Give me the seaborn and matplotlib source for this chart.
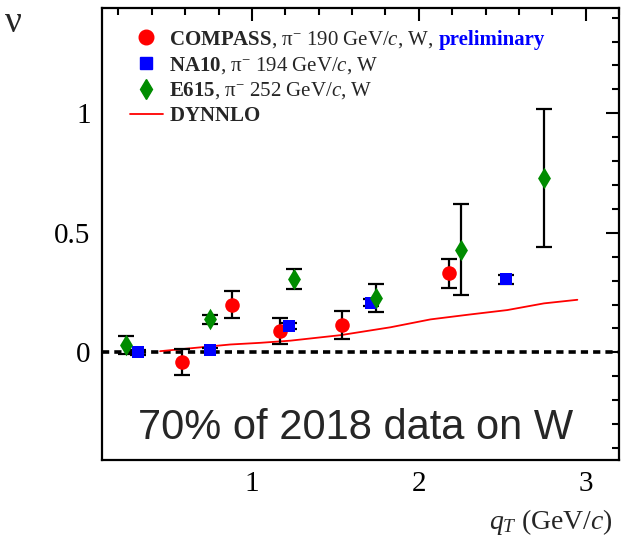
import numpy as np
import pandas as pd
import matplotlib
matplotlib.use("Agg")
import matplotlib.pyplot as plt
from matplotlib.lines import Line2D
from matplotlib.ticker import MultipleLocator, FixedLocator
import seaborn as sns

# COMPASS, pi- 190 GeV/c, W (preliminary)
compass_qt = [0.58, 0.88, 1.17, 1.54, 2.18]
compass_nu = [-0.04, 0.20, 0.09, 0.115, 0.33]
compass_err = [0.056, 0.057, 0.055, 0.057, 0.06]

# NA10, pi- 194 GeV/c, W
na10_qt = [0.32, 0.75, 1.225, 1.715, 2.52]
na10_nu = [0.0, 0.01, 0.11, 0.207, 0.305]
na10_err = [0.01, 0.01, 0.012, 0.015, 0.02]

# E615, pi- 252 GeV/c, W
e615_qt = [0.245, 0.75, 1.25, 1.745, 2.25, 2.75]
e615_nu = [0.03, 0.138, 0.307, 0.228, 0.43, 0.73]
e615_err = [0.037, 0.02, 0.04, 0.06, 0.19, 0.29]

# DYNNLO prediction
dyn_qt = [0.45, 0.6, 0.87, 1.05, 1.23, 1.53, 1.83, 2.07, 2.3, 2.53, 2.75, 2.95]
dyn_nu = [0.005, 0.015, 0.033, 0.04, 0.049, 0.072, 0.105, 0.138, 0.158, 0.177, 0.205, 0.22]

x_ticks = [1, 2, 3]
y_ticks = [0, 0.5, 1]

sns.set_style("white")
plt.rcParams["font.family"] = ["Liberation Serif", "DejaVu Serif"]
plt.rcParams["mathtext.fontset"] = "custom"
plt.rcParams["mathtext.rm"] = "Liberation Serif"
plt.rcParams["mathtext.it"] = "Liberation Serif:italic"
plt.rcParams["mathtext.bf"] = "Liberation Serif:bold"

fig = plt.figure(figsize=(6.33, 5.39), dpi=100)
ax = fig.add_axes([0.1607, 0.1466, 0.978 - 0.1607, 0.985 - 0.1466])

red = "#ff0000"
blue = "#0000ff"
green = "#008c00"

df_c = pd.DataFrame({"qt": compass_qt, "nu": compass_nu, "err": compass_err})
df_n = pd.DataFrame({"qt": na10_qt, "nu": na10_nu, "err": na10_err})
df_e = pd.DataFrame({"qt": e615_qt, "nu": e615_nu, "err": e615_err})
df_d = pd.DataFrame({"qt": dyn_qt, "nu": dyn_nu})

# zero reference line
ax.axhline(0, color="black", lw=2.6, ls=(0, (2.0, 1.4)), zorder=1)

# theory curve
sns.lineplot(data=df_d, x="qt", y="nu", color=red, lw=1.3, ax=ax, zorder=2)

# error bars
for df in (df_c, df_n, df_e):
    ax.errorbar(df["qt"], df["nu"], yerr=df["err"], fmt="none", ecolor="black",
                elinewidth=1.6, capsize=5.5, capthick=1.6, zorder=3)

sns.scatterplot(data=df_c, x="qt", y="nu", marker="o", s=110, color=red,
                linewidth=0, ax=ax, zorder=4)
sns.scatterplot(data=df_n, x="qt", y="nu", marker="s", s=85, color=blue,
                linewidth=0, ax=ax, zorder=4)
sns.scatterplot(data=df_e, x="qt", y="nu", marker="d", s=120, color=green,
                linewidth=0, ax=ax, zorder=4)

ax.set_xlim(0.1, 3.2)
ax.set_ylim(-0.45, 1.44)
ax.xaxis.set_major_locator(FixedLocator(x_ticks))
ax.yaxis.set_major_locator(FixedLocator(y_ticks))
ax.xaxis.set_minor_locator(MultipleLocator(0.2))
ax.yaxis.set_minor_locator(MultipleLocator(0.1))
ax.set_xticklabels([str(v) for v in x_ticks])
ax.set_yticklabels(["0", "0.5", "1"])
ax.tick_params(which="both", direction="in", top=True, right=True,
               width=1.5, colors="black", labelsize=21)
ax.tick_params(which="major", length=9.5, pad=8)
ax.tick_params(which="minor", length=5)
for sp in ax.spines.values():
    sp.set_linewidth(1.6)
    sp.set_color("black")

ax.set_xlabel(r"$q_{T}$ (GeV/$c$)", fontsize=20)
ax.xaxis.set_label_coords(0.988, -0.105)
ax.xaxis.label.set_ha("right")
ax.set_ylabel("ν", fontsize=27, rotation=0, va="center", ha="center")
ax.yaxis.set_label_coords(-0.17, 0.968)

# legend
handles = [
    Line2D([], [], marker="o", ls="none", color=red, markersize=10.5),
    Line2D([], [], marker="s", ls="none", color=blue, markersize=9),
    Line2D([], [], marker="d", ls="none", color=green, markersize=10),
    Line2D([], [], color=red, lw=1.3),
]
labels = [
    r"$\mathbf{COMPASS}$, π$^{-}$ 190 GeV/$c$, W,",
    r"$\mathbf{NA10}$, π$^{-}$ 194 GeV/$c$, W",
    r"$\mathbf{E615}$, π$^{-}$ 252 GeV/$c$, W",
    r"$\mathbf{DYNNLO}$",
]
leg = ax.legend(handles, labels, loc="upper left", bbox_to_anchor=(0.03, 0.982),
                frameon=False, fontsize=15, handlelength=1.6, handletextpad=0.3,
                labelspacing=0.24, borderaxespad=0.2)

fig.canvas.draw()
bb = leg.get_texts()[0].get_window_extent()
ax.annotate("preliminary", xy=(bb.x1 + 5, bb.y0), xycoords="figure pixels",
            ha="left", va="bottom", fontsize=15, fontweight="bold", color=blue)

ax.text(0.49, 0.071, "70% of 2018 data on W", transform=ax.transAxes,
        ha="center", va="center", fontsize=30, family="Liberation Sans")

fig.savefig("out.png", dpi=100)
